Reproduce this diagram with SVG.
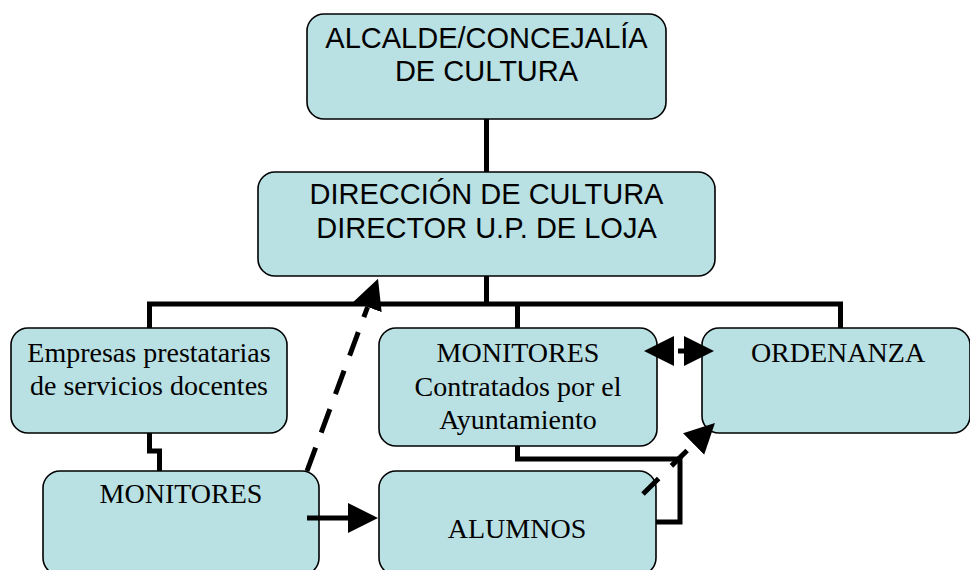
<svg xmlns="http://www.w3.org/2000/svg" width="970" height="570" viewBox="0 0 970 570">
<defs>
<style>
.box{fill:#B9E0E3;stroke:#000;stroke-width:1.6}
.sans{font-family:"Liberation Sans",Arial,sans-serif;font-size:29px;fill:#000;text-anchor:middle}
.serif{font-family:"Liberation Serif","Times New Roman",serif;font-size:28px;fill:#000;text-anchor:middle}
.con{fill:none;stroke:#000;stroke-width:5}
</style>
<marker id="ah" markerUnits="userSpaceOnUse" markerWidth="32" markerHeight="32" viewBox="0 -16 32 32" refX="0" refY="0" orient="auto-start-reverse">
<path d="M0,-15 L30,0 L0,15 z" fill="#000"/>
</marker>
</defs>
<rect width="970" height="570" fill="#fff"/>

<g id="alcalde">
<rect class="box" x="307" y="14" width="359" height="105" rx="17"/>
<text class="sans" x="486.5" y="48">ALCALDE/CONCEJALÍA</text>
<text class="sans" x="486.5" y="81">DE CULTURA</text>
</g>

<g id="direccion">
<rect class="box" x="258" y="172" width="457" height="104" rx="17"/>
<text class="sans" x="486.5" y="204">DIRECCIÓN DE CULTURA</text>
<text class="sans" x="486.5" y="238">DIRECTOR U.P. DE LOJA</text>
</g>

<g id="empresas">
<rect class="box" x="11" y="328" width="276" height="105" rx="17"/>
<text class="serif" x="149" y="362">Empresas prestatarias</text>
<text class="serif" x="149" y="395">de servicios docentes</text>
</g>

<g id="monitores-contratados">
<rect class="box" x="379" y="328" width="278" height="118" rx="17"/>
<text class="serif" x="518" y="362">MONITORES</text>
<text class="serif" x="518" y="396">Contratados por el</text>
<text class="serif" x="518" y="429">Ayuntamiento</text>
</g>

<g id="ordenanza">
<rect class="box" x="702" y="328" width="268" height="105" rx="17"/>
<text class="serif" x="838" y="362">ORDENANZA</text>
</g>

<g id="monitores">
<rect class="box" x="43" y="471" width="276" height="104" rx="17"/>
<text class="serif" x="181" y="503">MONITORES</text>
</g>

<g id="alumnos">
<rect class="box" x="379" y="471" width="277" height="104" rx="17"/>
<text class="serif" x="517" y="538">ALUMNOS</text>
</g>

<g id="connectors">
<path class="con" d="M486.5,119 V172"/>
<path class="con" d="M486.5,276 V304"/>
<path class="con" d="M149.5,328 V304 H840.5 V328"/>
<path class="con" d="M517.5,304 V328"/>
<path class="con" d="M149.5,433 V451 H159.5 V471"/>
<path class="con" d="M517.5,446 V459 H680 V522 H656"/>
<path class="con" d="M307,518 H348" marker-end="url(#ah)"/>
<path class="con" d="M307,471 L367.6,307" stroke-dasharray="25 16" marker-end="url(#ah)"/>
<path class="con" d="M643,494 L693.6,444" stroke-dasharray="22 18" marker-end="url(#ah)"/>
<path class="con" d="M674,351 H684" stroke-dasharray="0 4 6 0" marker-start="url(#ah)" marker-end="url(#ah)"/>
</g>
</svg>
